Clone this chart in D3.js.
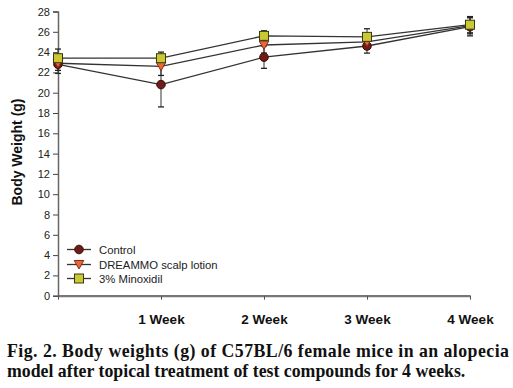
<!DOCTYPE html>
<html><head><meta charset="utf-8">
<script src="https://cdn.jsdelivr.net/npm/d3@7"></script>
<style>body{margin:0;background:#fff}svg{display:block}</style>
</head><body>
<script>
const categories = ["", "1 Week", "2 Week", "3 Week", "4 Week"];
const seriesNames = ["Control", "DREAMMO scalp lotion", "3% Minoxidil"];
const controlMean = [22.8, 20.8, 23.5, 24.6, 26.5];
const controlErr  = [0.9, 2.2, 1.1, 0.7, 0.9];
const dreammoMean = [22.9, 22.6, 24.7, 25.0, 26.6];
const dreammoErr  = [0.7, 0.9, 0.8, 0.7, 0.8];
const minoxMean   = [23.4, 23.4, 25.6, 25.5, 26.7];
const minoxErr    = [0.9, 0.6, 0.5, 0.8, 0.8];
const yTicks = [0,2,4,6,8,10,12,14,16,18,20,22,24,26,28];

const W = 513, H = 388;
const svg = d3.select("body").append("svg").attr("width", W).attr("height", H);
const x = d3.scalePoint().domain(d3.range(categories.length)).range([58, 470]);
const y = d3.scaleLinear().domain([0, 28]).range([295.7, 11.5]);

const series = [
  {name: seriesNames[0], mean: controlMean, err: controlErr, shape: "circle", fill: "#6e1c16", stroke: "#3a0d0a"},
  {name: seriesNames[1], mean: dreammoMean, err: dreammoErr, shape: "tri", fill: "#e8683c", stroke: "#8a2d14"},
  {name: seriesNames[2], mean: minoxMean, err: minoxErr, shape: "square", fill: "#c9c934", stroke: "#3a3a10"}
];

// y axis
const yAxis = svg.append("g").attr("transform", "translate(58,0)")
  .call(d3.axisLeft(y).tickValues(yTicks).tickSize(5).tickPadding(3));
yAxis.select(".domain").attr("stroke", "#666").attr("stroke-width", 1.5);
yAxis.selectAll(".tick line").attr("stroke", "#444");
yAxis.selectAll("text").attr("font-family", "Liberation Sans, Arial, sans-serif").attr("font-size", 11).attr("fill", "#222");

// x axis
const xAxis = svg.append("g").attr("transform", "translate(0,295.7)")
  .call(d3.axisBottom(x).tickFormat(i => categories[i]).tickSize(4).tickSizeOuter(0).tickPadding(15));
xAxis.select(".domain").attr("stroke", "#777").attr("stroke-width", 2.2);
xAxis.selectAll(".tick line").attr("stroke", "#555");
xAxis.selectAll("text").attr("font-family", "Liberation Sans, Arial, sans-serif").attr("font-size", 13.5)
  .attr("font-weight", "bold").attr("fill", "#111");

// y label
svg.append("text").attr("transform", "translate(22,152) rotate(-90)").attr("text-anchor", "middle")
  .attr("font-family", "Liberation Sans, Arial, sans-serif").attr("font-size", 14).attr("font-weight", "bold")
  .attr("fill", "#111").text("Body Weight (g)");

const line = d3.line().x((d, i) => x(i)).y(d => y(d));

function marker(g, s, cx, cy) {
  if (s.shape === "circle") {
    g.append("circle").attr("cx", cx).attr("cy", cy).attr("r", 4.3).attr("fill", s.fill).attr("stroke", s.stroke).attr("stroke-width", 1);
  } else if (s.shape === "tri") {
    g.append("path").attr("d", `M${cx-4.8},${cy-4} L${cx+4.8},${cy-4} L${cx},${cy+4.5} Z`).attr("fill", s.fill).attr("stroke", s.stroke).attr("stroke-width", 1);
  } else {
    g.append("rect").attr("x", cx-4.5).attr("y", cy-4.5).attr("width", 9).attr("height", 9).attr("fill", s.fill).attr("stroke", s.stroke).attr("stroke-width", 1);
  }
}

// error bars
series.forEach(s => {
  const g = svg.append("g");
  s.mean.forEach((m, i) => {
    const cx = x(i);
    g.append("line").attr("x1", cx).attr("x2", cx).attr("y1", y(m - s.err[i])).attr("y2", y(m + s.err[i])).attr("stroke", "#333").attr("stroke-width", 1);
    [m - s.err[i], m + s.err[i]].forEach(v => {
      g.append("line").attr("x1", cx-3).attr("x2", cx+3).attr("y1", y(v)).attr("y2", y(v)).attr("stroke", "#222").attr("stroke-width", 1.3);
    });
  });
});
// lines
series.forEach(s => {
  svg.append("path").attr("d", line(s.mean)).attr("fill", "none").attr("stroke", "#333").attr("stroke-width", 1.3);
});
// markers
series.forEach(s => {
  const g = svg.append("g");
  s.mean.forEach((m, i) => marker(g, s, x(i), y(m)));
});

// legend
const legY = [249.5, 264.5, 278.5];
series.forEach((s, i) => {
  const g = svg.append("g");
  g.append("line").attr("x1", 67).attr("x2", 91).attr("y1", legY[i]).attr("y2", legY[i]).attr("stroke", "#333").attr("stroke-width", 1.3);
  marker(g, s, 79, legY[i]);
  g.append("text").attr("x", 99).attr("y", legY[i] + 4).attr("font-family", "Liberation Sans, Arial, sans-serif")
    .attr("font-size", 11.3).attr("fill", "#222").text(s.name);
});

// caption
svg.append("text").attr("x", 7).attr("y", 357).attr("font-family", "Liberation Serif, Times New Roman, serif")
  .attr("font-size", 17.8).attr("font-weight", "bold").attr("fill", "#111")
  .attr("textLength", 502).attr("lengthAdjust", "spacing")
  .text("Fig. 2. Body weights (g) of C57BL/6 female mice in an alopecia");
svg.append("text").attr("x", 7).attr("y", 377).attr("font-family", "Liberation Serif, Times New Roman, serif")
  .attr("font-size", 17.8).attr("font-weight", "bold").attr("fill", "#111")
  .text("model after topical treatment of test compounds for 4 weeks.");
</script>
</body></html>
